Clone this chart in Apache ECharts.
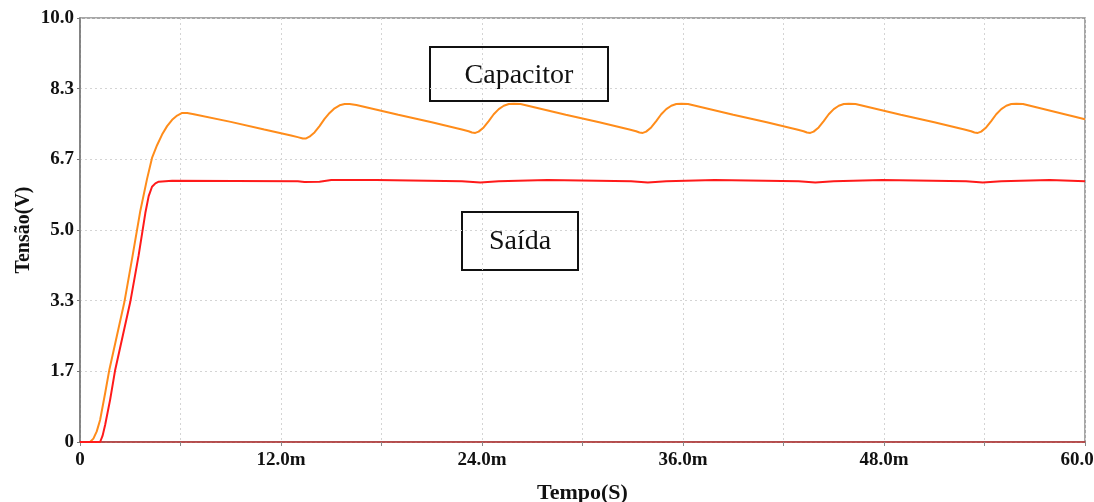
<!DOCTYPE html>
<html>
<head>
<meta charset="utf-8">
<script src="https://cdn.jsdelivr.net/npm/echarts@6/dist/echarts.min.js"></script>
<style>
  html, body { margin: 0; padding: 0; background: #fff; }
  #chart { width: 1094px; height: 502px; }
</style>
</head>
<body>
<div id="chart"></div>
<script>
// tempo em ms, tensão em V
var capTime = [0, 0.6, 0.8, 1.0, 1.2, 1.5, 1.75, 2.2, 2.65, 3.1, 3.6, 4.0, 4.3, 4.6, 4.9, 5.2, 5.5, 5.8, 6.1, 6.4, 6.8,
  9.0, 11.0, 12.6, 13.0, 13.3, 13.5, 13.7, 14.0, 14.3, 14.6, 14.9, 15.2, 15.5, 15.8, 16.1, 16.5,
  19.0, 21.0, 22.8, 23.2, 23.4, 23.6, 23.8, 24.1, 24.4, 24.7, 25.0, 25.3, 25.6, 25.9, 26.3,
  29.0, 31.0, 32.8, 33.2, 33.4, 33.6, 33.8, 34.1, 34.4, 34.7, 35.0, 35.3, 35.6, 35.9, 36.3,
  39.0, 41.0, 42.8, 43.2, 43.4, 43.6, 43.8, 44.1, 44.4, 44.7, 45.0, 45.3, 45.6, 45.9, 46.3,
  49.0, 51.0, 52.8, 53.2, 53.4, 53.6, 53.8, 54.1, 54.4, 54.7, 55.0, 55.3, 55.6, 55.9, 56.3, 60.0];
var capVolt = [0, 0, 0.08, 0.25, 0.52, 1.15, 1.7, 2.5, 3.3, 4.3, 5.45, 6.2, 6.7, 7.0, 7.25, 7.45, 7.6, 7.7, 7.76, 7.76, 7.73,
  7.55, 7.37, 7.23, 7.19, 7.16, 7.16, 7.2, 7.3, 7.45, 7.62, 7.76, 7.87, 7.94, 7.97, 7.97, 7.95,
  7.72, 7.54, 7.37, 7.33, 7.3, 7.29, 7.32, 7.42, 7.57, 7.73, 7.85, 7.93, 7.97, 7.98, 7.97,
  7.72, 7.54, 7.37, 7.33, 7.3, 7.29, 7.32, 7.42, 7.57, 7.73, 7.85, 7.93, 7.97, 7.98, 7.97,
  7.72, 7.54, 7.37, 7.33, 7.3, 7.29, 7.32, 7.42, 7.57, 7.73, 7.85, 7.93, 7.97, 7.98, 7.97,
  7.72, 7.54, 7.37, 7.33, 7.3, 7.29, 7.32, 7.42, 7.57, 7.73, 7.85, 7.93, 7.97, 7.98, 7.97, 7.61];

var outTime = [0, 1.2, 1.35, 1.5, 1.8, 2.1, 2.55, 3.0, 3.5, 3.9, 4.1, 4.3, 4.5, 4.7, 5.5,
  13.0, 13.4, 14.3, 15.0, 17.7, 17.8, 22.8, 22.9, 23.9, 24.0, 25.0, 25.1, 27.9, 28.0,
  32.9, 33.0, 33.9, 34.0, 35.0, 35.1, 37.9, 38.0, 42.9, 43.0, 43.9, 44.0, 45.0, 45.1,
  47.9, 48.0, 52.9, 53.0, 53.9, 54.0, 55.0, 55.1, 57.9, 58.0, 60.0];
var outVolt = [0, 0, 0.15, 0.4, 1.0, 1.7, 2.5, 3.3, 4.4, 5.4, 5.8, 6.02, 6.1, 6.14, 6.16,
  6.15, 6.13, 6.14, 6.18, 6.18, 6.15, 6.15, 6.12, 6.12, 6.15, 6.15, 6.18, 6.18, 6.15,
  6.15, 6.12, 6.12, 6.15, 6.15, 6.18, 6.18, 6.15, 6.15, 6.12, 6.12, 6.15, 6.15, 6.18,
  6.18, 6.15, 6.15, 6.12, 6.12, 6.15, 6.15, 6.18, 6.18, 6.15, 6.15];

function pairs(xs, ys) {
  var out = [];
  for (var i = 0; i < xs.length; i++) out.push([xs[i], ys[i]]);
  return out;
}

var myChart = echarts.init(document.getElementById('chart'));
var serif = '"Liberation Serif", "DejaVu Serif", serif';

var option = {
  animation: false,
  grid: {
    left: 80, right: 9, top: 18, bottom: 60,
    outerBoundsMode: 'none', containLabel: false,
    show: true, borderColor: '#8a8a8a', borderWidth: 1.5
  },
  xAxis: {
    type: 'value', min: 0, max: 60, interval: 6,
    name: 'Tempo(S)', nameLocation: 'middle', nameGap: 40, nameMoveOverlap: false,
    nameTextStyle: { fontFamily: serif, fontWeight: 'bold', fontSize: 22, color: '#111' },
    axisLine: { lineStyle: { color: '#b83232', width: 1.5 } },
    axisTick: { length: 4, lineStyle: { color: '#888' } },
    axisLabel: {
      fontFamily: serif, fontWeight: 'bold', fontSize: 19, color: '#111', margin: 9,
      hideOverlap: false, showMaxLabel: true,
      formatter: function (v) {
        if (v === 0) return '0';
        return v % 12 === 0 ? v.toFixed(1) + 'm' : '';
      }
    },
    splitLine: { show: true, lineStyle: { color: '#d4d4d4', type: [2, 3] } }
  },
  yAxis: {
    type: 'value', min: 0, max: 10, interval: 10 / 6,
    name: 'Tensão(V)', nameLocation: 'middle', nameGap: 46, nameMoveOverlap: false,
    nameTextStyle: { fontFamily: serif, fontWeight: 'bold', fontSize: 20, color: '#111' },
    axisLine: { show: true, lineStyle: { color: '#777', width: 1.5 } },
    axisTick: { show: true, length: 3, lineStyle: { color: '#777' } },
    axisLabel: {
      fontFamily: serif, fontWeight: 'bold', fontSize: 19, color: '#111', margin: 6,
      formatter: function (v) { return v === 0 ? '0' : v.toFixed(1); }
    },
    splitLine: { show: true, lineStyle: { color: '#d4d4d4', type: [2, 3] } }
  },
  series: [
    {
      name: 'Capacitor', type: 'line', showSymbol: false, smooth: false,
      lineStyle: { color: '#ff8c1a', width: 2 },
      data: pairs(capTime, capVolt)
    },
    {
      name: 'Saída', type: 'line', showSymbol: false, smooth: false,
      lineStyle: { color: '#ff1a1a', width: 2 },
      data: pairs(outTime, outVolt)
    }
  ],
  graphic: [
    {
      type: 'group', left: 429, top: 46,
      children: [
        { type: 'rect', shape: { x: 0, y: 0, width: 178, height: 54 },
          style: { fill: '#fff', stroke: '#111', lineWidth: 2 } },
        { type: 'text', x: 89, y: 29,
          style: { text: 'Capacitor', font: '28px ' + serif, fill: '#111', align: 'center', verticalAlign: 'middle' } }
      ]
    },
    {
      type: 'group', left: 461, top: 211,
      children: [
        { type: 'rect', shape: { x: 0, y: 0, width: 116, height: 58 },
          style: { fill: '#fff', stroke: '#111', lineWidth: 2 } },
        { type: 'text', x: 58, y: 30,
          style: { text: 'Saída', font: '28px ' + serif, fill: '#111', align: 'center', verticalAlign: 'middle' } }
      ]
    }
  ]
};
option && myChart.setOption(option);
</script>
</body>
</html>
